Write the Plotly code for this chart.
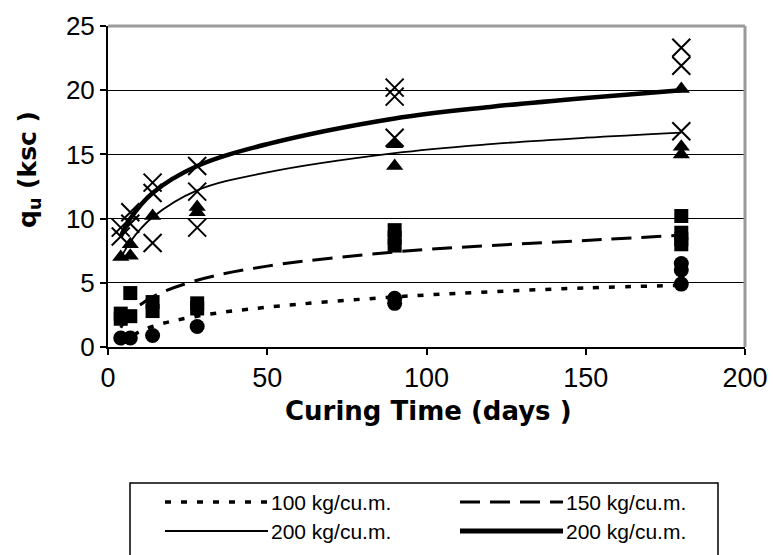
import plotly.graph_objects as go

# ---------------- data ----------------
x_ticks = [0, 50, 100, 150, 200]
y_ticks = [0, 5, 10, 15, 20, 25]

# measured unconfined strengths
c100_days = [4, 7, 14, 28, 90, 90, 180, 180, 180]
c100_qu = [0.7, 0.7, 0.9, 1.6, 3.8, 3.4, 6.5, 6.0, 4.9]

c150_days = [4, 4, 7, 7, 14, 14, 28, 28, 90, 90, 90, 180, 180, 180, 180]
c150_qu = [2.6, 2.2, 4.2, 2.4, 3.5, 2.8, 3.4, 3.0, 9.1, 8.5, 7.9, 10.2, 8.9, 8.4, 8.0]

c200a_days = [4, 7, 7, 14, 28, 28, 90, 90, 180, 180, 180]
c200a_qu = [7.0, 7.1, 8.0, 10.2, 10.9, 10.5, 15.8, 14.1, 20.1, 15.6, 15.0]

c200b_days = [4, 4, 7, 7, 14, 14, 14, 28, 28, 28, 90, 90, 90, 180, 180, 180]
c200b_qu = [9.3, 8.6, 10.5, 9.6, 12.8, 12.0, 8.1, 14.1, 12.1, 9.3, 20.2, 19.5, 16.3, 23.3, 21.9, 16.8]

# trend lines
fit_days = [4, 7, 14, 28, 50, 90, 120, 150, 180]
fit100 = [0.2, 0.8, 1.6, 2.4, 3.1, 3.9, 4.3, 4.6, 4.8]
fit150 = [1.5, 2.6, 3.9, 5.2, 6.3, 7.4, 7.9, 8.3, 8.7]
fit200a = [6.9, 8.2, 10.1, 12.2, 13.6, 15.1, 15.8, 16.3, 16.7]
fit200b = [8.6, 10.0, 12.0, 14.1, 15.8, 17.8, 18.7, 19.4, 20.0]

legend_labels = ["100 kg/cu.m.", "150 kg/cu.m.", "200 kg/cu.m.", "200 kg/cu.m."]

# ---------------- layout geometry ----------------
W, H = 773, 555
L, R, T, B = 108, 28, 26, 208
PW, PH = W - L - R, H - T - B


def px(xp):
    return (xp - L) / PW


def py(yp):
    return (H - B - yp) / PH


TICKFONT = "Liberation Sans, Arial, sans-serif"
TITLEFONT = "DejaVu Sans, Verdana, sans-serif"

fig = go.Figure()

# markers
fig.add_trace(go.Scatter(x=c100_days, y=c100_qu, mode="markers", showlegend=False,
                         marker=dict(symbol="circle", size=15, color="black")))
fig.add_trace(go.Scatter(x=c150_days, y=c150_qu, mode="markers", showlegend=False,
                         marker=dict(symbol="square", size=14, color="black")))
fig.add_trace(go.Scatter(x=c200a_days, y=c200a_qu, mode="markers", showlegend=False,
                         marker=dict(symbol="triangle-up", size=15, color="black")))
fig.add_trace(go.Scatter(x=c200b_days, y=c200b_qu, mode="markers", showlegend=False,
                         marker=dict(symbol="x-thin", size=18, color="black",
                                     line=dict(color="black", width=2))))

# trend lines
line_styles = [
    dict(color="black", width=3.5, dash="6px,10px", shape="spline"),
    dict(color="black", width=3, dash="20px,10px", shape="spline"),
    dict(color="black", width=1.8, shape="spline"),
    dict(color="black", width=4.5, shape="spline"),
]
for ys, st, name in zip([fit100, fit150, fit200a, fit200b], line_styles, legend_labels):
    fig.add_trace(go.Scatter(x=fit_days, y=ys, mode="lines", name=name,
                             showlegend=False, line=st))

shapes = [
    # grey top and right frame
    dict(type="line", xref="paper", yref="paper", x0=0, x1=1, y0=1, y1=1,
         line=dict(color="#9a9a9a", width=3)),
    dict(type="line", xref="paper", yref="paper", x0=1, x1=1, y0=0, y1=1,
         line=dict(color="#9a9a9a", width=3)),
    # legend box
    dict(type="rect", xref="paper", yref="paper", x0=px(130), x1=px(718),
         y0=py(483), y1=py(575), line=dict(color="black", width=1.5),
         fillcolor="white"),
]

legend_rows = [502, 531]
legend_cols = [(165, 268), (460, 563)]
legend_line_styles = [
    dict(color="black", width=3.5, dash="6px,10px"),
    dict(color="black", width=3, dash="20px,10px"),
    dict(color="black", width=2),
    dict(color="black", width=5),
]
annotations = []
for i, (lab, st) in enumerate(zip(legend_labels, legend_line_styles)):
    r, c = divmod(i, 2)
    x0, x1 = legend_cols[c]
    yy = legend_rows[r]
    shapes.append(dict(type="line", xref="paper", yref="paper",
                       x0=px(x0), x1=px(x1), y0=py(yy), y1=py(yy), line=st))
    annotations.append(dict(text=lab, xref="paper", yref="paper", x=px(x1 + 1), y=py(yy),
                            xanchor="left", yanchor="middle", showarrow=False,
                            font=dict(family=TICKFONT, size=21, color="black")))

# axis titles
annotations.append(dict(text="<b>Curing Time (days )</b>", xref="paper", yref="paper",
                        x=px(428), y=py(411), xanchor="center", yanchor="middle",
                        showarrow=False, font=dict(family=TITLEFONT, size=26, color="black")))
annotations.append(dict(text="<b>q<sub>u</sub> (ksc )</b>", xref="paper", yref="paper",
                        x=px(29), y=py(170), xanchor="center", yanchor="middle",
                        textangle=-90, showarrow=False,
                        font=dict(family=TITLEFONT, size=25, color="black")))

fig.update_layout(
    width=W, height=H,
    margin=dict(l=L, r=R, t=T, b=B, pad=0),
    paper_bgcolor="white", plot_bgcolor="white",
    showlegend=False,
    shapes=shapes, annotations=annotations,
    xaxis=dict(range=[0, 200], tickvals=x_ticks, ticks="outside", ticklen=6,
               tickwidth=1.5, tickcolor="black", showline=True, linecolor="black",
               linewidth=2, showgrid=False, zeroline=False, automargin=False,
               tickfont=dict(family=TICKFONT, size=27, color="black")),
    yaxis=dict(range=[0, 25], tickvals=y_ticks, ticks="outside", ticklen=6,
               tickwidth=1.5, tickcolor="black", showline=True, linecolor="black",
               linewidth=2, showgrid=True, gridcolor="black", gridwidth=1,
               zeroline=False, automargin=False,
               tickfont=dict(family=TICKFONT, size=26, color="black")),
)

# remove the default 8px page margin so the figure starts at the window corner
fig.write_html("out.html",
               config={"displayModeBar": False},
               post_script="document.body.style.margin='0';document.body.style.overflow='hidden';")
